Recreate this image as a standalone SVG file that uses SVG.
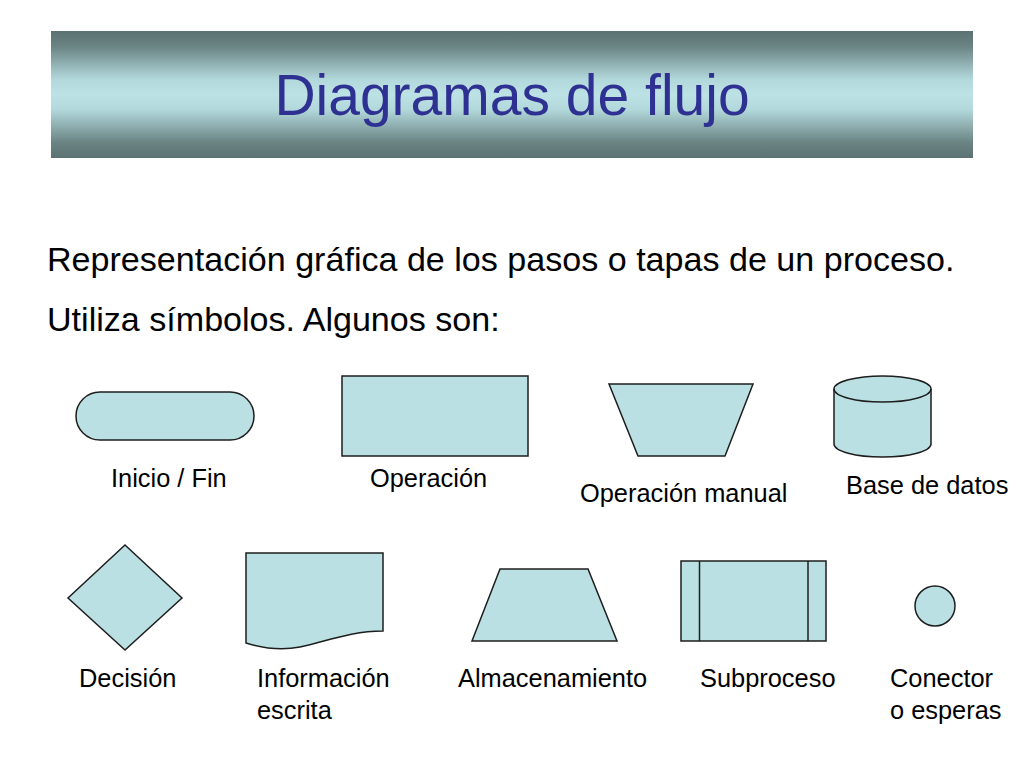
<svg xmlns="http://www.w3.org/2000/svg" width="1024" height="768" viewBox="0 0 1024 768">
  <defs>
    <linearGradient id="barGrad" x1="0" y1="0" x2="0" y2="1">
      <stop offset="0" stop-color="#5c7272"/>
      <stop offset="0.12" stop-color="#6a8383"/>
      <stop offset="0.38" stop-color="#b2d8db"/>
      <stop offset="0.5" stop-color="#bce2e5"/>
      <stop offset="0.62" stop-color="#b2d8db"/>
      <stop offset="0.88" stop-color="#6a8383"/>
      <stop offset="1" stop-color="#5c7272"/>
    </linearGradient>
    <style>
      .shape { fill: #bbe0e3; stroke: #1e1e1e; stroke-width: 1.5; }
      .label { font-family: "Liberation Sans", Arial, sans-serif; font-size: 25.4px; fill: #000; }
      .body { font-family: "Liberation Sans", Arial, sans-serif; font-size: 34.1px; fill: #000; }
      .title { font-family: "Liberation Sans", Arial, sans-serif; font-size: 57px; fill: #2e3192; }
    </style>
  </defs>
  <rect width="1024" height="768" fill="#ffffff"/>

  <g id="title">
    <rect x="51" y="31" width="922" height="127" fill="url(#barGrad)"/>
    <text class="title" x="512" y="115" text-anchor="middle">Diagramas de flujo</text>
  </g>

  <g id="intro">
    <text class="body" x="47" y="271">Representación gráfica de los pasos o tapas de un proceso.</text>
    <text class="body" x="47" y="331">Utiliza símbolos. Algunos son:</text>
  </g>

  <g id="connectors"></g>

  <g id="node-inicio-fin">
    <rect class="shape" x="76" y="392" width="178" height="48" rx="24" ry="24"/>
    <text class="label" x="111" y="487">Inicio / Fin</text>
  </g>

  <g id="node-operacion">
    <rect class="shape" x="342" y="376" width="186" height="80"/>
    <text class="label" x="370" y="487">Operación</text>
  </g>

  <g id="node-operacion-manual">
    <polygon class="shape" points="609,384 753,384 725,456 638,456"/>
    <text class="label" x="580" y="502">Operación manual</text>
  </g>

  <g id="node-base-datos">
    <path class="shape" d="M834,389 A48.5,13 0 0 1 931,389 V444 A48.5,13 0 0 1 834,444 Z"/>
    <path fill="none" stroke="#1e1e1e" stroke-width="1.5" d="M834,389 A48.5,13 0 0 0 931,389"/>
    <text class="label" x="846" y="494">Base de datos</text>
  </g>

  <g id="node-decision">
    <polygon class="shape" points="125,545 182,598 125,650 68,598"/>
    <text class="label" x="79" y="687">Decisión</text>
  </g>

  <g id="node-informacion-escrita">
    <path class="shape" d="M246,553 H383 V631 C350,631 325,642 300,647 C280,651 262,648 246,643 Z"/>
    <text class="label" x="257" y="687">Información</text>
    <text class="label" x="257" y="719">escrita</text>
  </g>

  <g id="node-almacenamiento">
    <polygon class="shape" points="500,569 588,569 617,641 472,641"/>
    <text class="label" x="458" y="687">Almacenamiento</text>
  </g>

  <g id="node-subproceso">
    <rect class="shape" x="681" y="561" width="145" height="80"/>
    <line x1="699.5" y1="561" x2="699.5" y2="641" stroke="#1e1e1e" stroke-width="1.5"/>
    <line x1="808" y1="561" x2="808" y2="641" stroke="#1e1e1e" stroke-width="1.5"/>
    <text class="label" x="700" y="687">Subproceso</text>
  </g>

  <g id="node-conector">
    <circle class="shape" cx="935" cy="606" r="20"/>
    <text class="label" x="890" y="687">Conector</text>
    <text class="label" x="890" y="719">o esperas</text>
  </g>
</svg>
